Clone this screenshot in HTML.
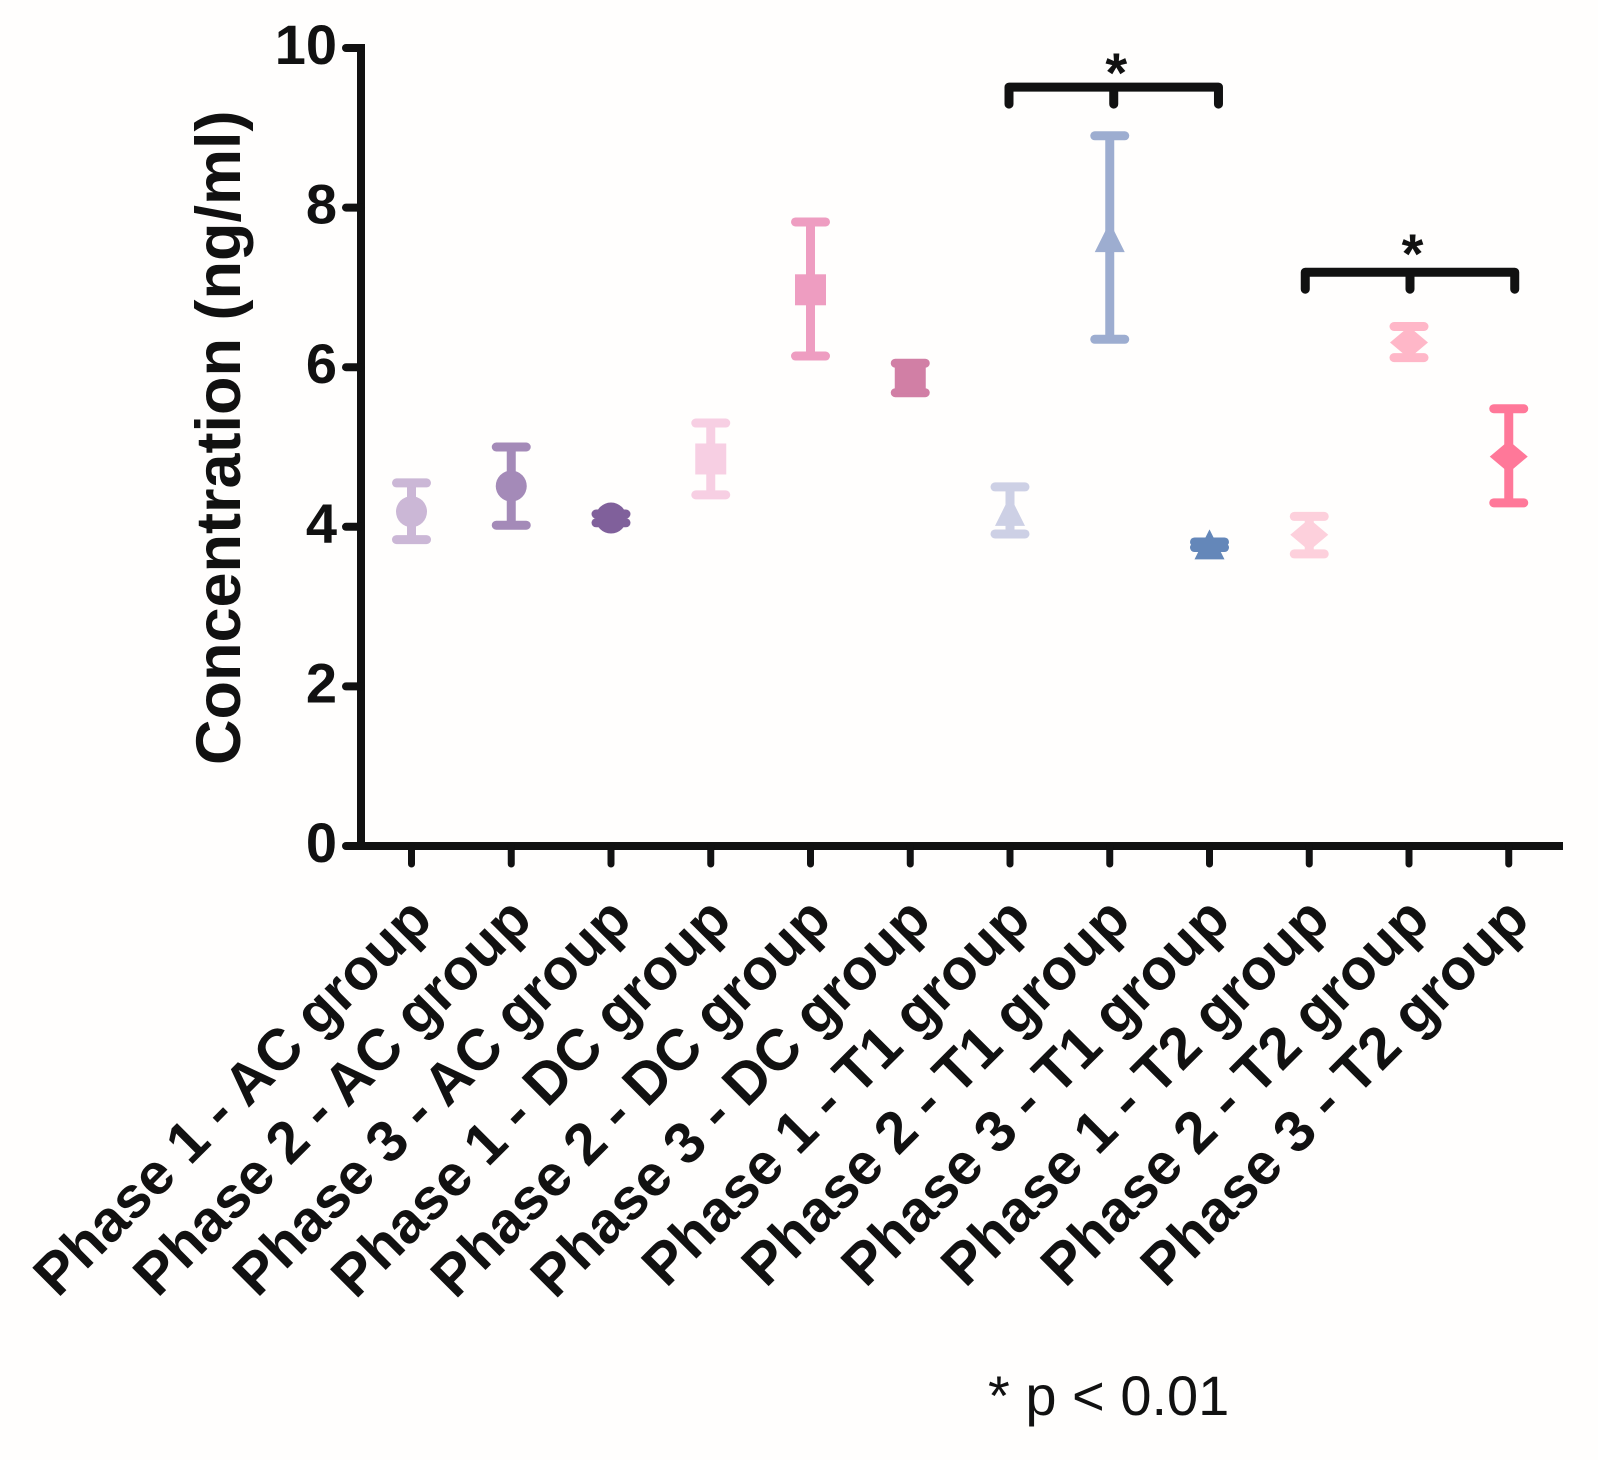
<!DOCTYPE html>
<html lang="en">
<head>
<meta charset="utf-8">
<title>Concentration by phase and group</title>
<style>
html,body{margin:0;padding:0;background:#fffefd;width:1598px;height:1460px;overflow:hidden}
svg{display:block}
text{font-family:"Liberation Sans",Arial,sans-serif;fill:#111}
</style>
</head>
<body>
<svg id="chart" xmlns="http://www.w3.org/2000/svg" width="1598" height="1460" viewBox="0 0 1598 1460">
<rect x="0" y="0" width="1598" height="1460" fill="#fffefd"/>
<text transform="translate(240,765) rotate(-90)" font-size="63" font-weight="700">Concentration (ng/ml)</text>
<text x="988" y="1415" font-size="56">* p &lt; 0.01</text>
</svg>
<script>
const categories = ["Phase 1 - AC group","Phase 2 - AC group","Phase 3 - AC group","Phase 1 - DC group","Phase 2 - DC group","Phase 3 - DC group","Phase 1 - T1 group","Phase 2 - T1 group","Phase 3 - T1 group","Phase 1 - T2 group","Phase 2 - T2 group","Phase 3 - T2 group"];
const means = [4.19,4.51,4.11,4.85,6.97,5.86,4.2,7.63,3.78,3.9,6.31,4.88];
const upper = [4.55,5.0,4.16,5.3,7.82,6.05,4.5,8.9,3.81,4.13,6.51,5.48];
const lower = [3.84,4.02,4.05,4.4,6.14,5.68,3.91,6.35,3.74,3.66,6.12,4.3];
const yTicks = [0,2,4,6,8,10];
const bracketStart = [5.99,8.96];
const bracketMiddle = [7.04,10.01];
const bracketEnd = [8.09,11.06];
const bracketLevel = [9.51,7.19];
const asteriskLevel = [9.45,7.18];

const markerShapes = ["circle","circle","circle","square","square","square","triangle","triangle","triangle","diamond","diamond","diamond"];
const seriesColors = ["#cbb7d6","#a48ab8","#80609b","#f7cfe3","#ee9dc1","#d17fa5","#cdd0e5","#9dadd0","#6487b9","#fdd0dc","#ffb7c8","#ff7899"];

const svg = document.getElementById('chart');
const NS = 'http://www.w3.org/2000/svg';
const xScale = i => 411.5 + 99.75 * i;
const yScale = v => 846 - 79.8 * v;
const INK = '#111';

function make(tag, attrs, parent) {
  const el = document.createElementNS(NS, tag);
  for (const k in attrs) el.setAttribute(k, attrs[k]);
  (parent || svg).appendChild(el);
  return el;
}

/* y axis */
const yAxis = make('line', {x1: 361, y1: yScale(10) - 4, x2: 361, y2: yScale(0) + 4, stroke: INK, 'stroke-width': 8});



yTicks.forEach(t => {
  const tick = make('line', {x1: 346, y1: yScale(t), x2: 361, y2: yScale(t), stroke: INK, 'stroke-width': 8, 'stroke-linecap': 'round'});
  
  
  const label = make('text', {x: 337, y: yScale(t) + 16, 'font-size': 56, 'font-weight': 700, 'text-anchor': 'end'});
  label.textContent = String(t);
  
  
});

/* x axis */
const xAxis = make('line', {x1: 346, y1: yScale(0), x2: 1563, y2: yScale(0), stroke: INK, 'stroke-width': 8, 'stroke-linecap': 'butt'});



categories.forEach((c, i) => {
  const x = xScale(i);
  const tick = make('line', {x1: x, y1: yScale(0), x2: x, y2: yScale(0) + 18, stroke: INK, 'stroke-width': 7, 'stroke-linecap': 'round'});
  
  
  const label = make('text', {transform: 'translate(' + (x + 23) + ',922) rotate(-45)', 'font-size': 58, 'font-weight': 700, 'text-anchor': 'end'});
  label.textContent = c;
  
  
});

/* error bars and markers */
categories.forEach((c, i) => {
  const x = xScale(i);
  const col = seriesColors[i];
  const g = make('g', {});
  
  

  const stem = make('line', {x1: x, y1: yScale(upper[i]), x2: x, y2: yScale(lower[i]), stroke: col, 'stroke-width': 9}, g);
  
  

  const capTop = make('line', {x1: x - 15, y1: yScale(upper[i]), x2: x + 15, y2: yScale(upper[i]), stroke: col, 'stroke-width': 9, 'stroke-linecap': 'round'}, g);
  
  

  const capBottom = make('line', {x1: x - 15, y1: yScale(lower[i]), x2: x + 15, y2: yScale(lower[i]), stroke: col, 'stroke-width': 9, 'stroke-linecap': 'round'}, g);
  
  

  const y = yScale(means[i]);
  const shape = markerShapes[i];
  let marker;
  if (shape === 'circle') {
    marker = make('circle', {cx: x, cy: y, r: 15.5, fill: col}, g);
  } else if (shape === 'square') {
    marker = make('rect', {x: x - 15.5, y: y - 15.5, width: 31, height: 31, fill: col}, g);
  } else if (shape === 'triangle') {
    marker = make('polygon', {points: [x, y - 15, x + 15, y + 15, x - 15, y + 15].join(' '), fill: col}, g);
  } else {
    marker = make('polygon', {points: [x, y - 16, x + 19, y, x, y + 16, x - 19, y].join(' '), fill: col}, g);
  }
  
  
});

/* significance brackets */
bracketLevel.forEach((lvl, b) => {
  const x1 = xScale(bracketStart[b]);
  const xm = xScale(bracketMiddle[b]);
  const x2 = xScale(bracketEnd[b]);
  const y = yScale(lvl);
  const g = make('g', {});
  
  
  const drop = 17;
  const frame = make('path', {d: 'M' + x1 + ' ' + (y + drop) + 'V' + y + 'H' + x2 + 'V' + (y + drop) + 'M' + xm + ' ' + y + 'V' + (y + drop), fill: 'none', stroke: INK, 'stroke-width': 9, 'stroke-linecap': 'round', 'stroke-linejoin': 'round'}, g);
  
  
  const star = make('text', {x: xm + 2.5, y: yScale(asteriskLevel[b]), 'font-size': 56, 'font-weight': 700, 'text-anchor': 'middle'}, g);
  star.textContent = '*';
  
  
});
</script>
</body>
</html>
